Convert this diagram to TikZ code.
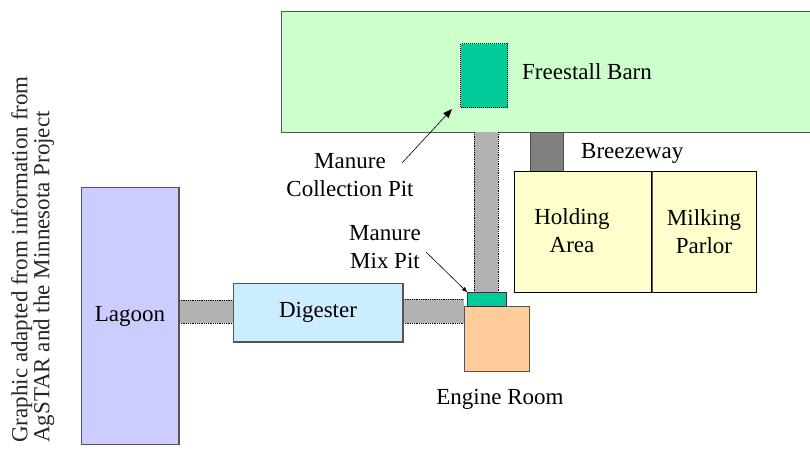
\documentclass[tikz,border=0pt]{standalone}
\usepackage{fontspec}
\setmainfont{Liberation Serif}
\usetikzlibrary{arrows.meta}
\definecolor{barn}{HTML}{CCFFCC}
\definecolor{pitg}{HTML}{00CC99}
\definecolor{pipeg}{HTML}{B2B2B2}
\definecolor{breeze}{HTML}{808080}
\definecolor{hold}{HTML}{FFFFCC}
\definecolor{eng}{HTML}{FFCC99}
\definecolor{dig}{HTML}{CCECFF}
\definecolor{lag}{HTML}{CCCCFF}
\definecolor{edge}{HTML}{555555}
\tikzset{
  box/.style={draw=edge, line width=1pt, anchor=north west, inner sep=0pt, font=\fontsize{23}{28}\selectfont, align=center},
  txt/.style={inner sep=0pt, font=\fontsize{23}{28}\selectfont, align=center},
  pipe/.style={fill=pipeg},
  pipeedge/.style={draw=black, line width=0.8pt, densely dotted},
  arr/.style={draw=black, line width=0.6pt}
}
\begin{document}
\begin{tikzpicture}[x=1pt,y=-1pt]
\useasboundingbox (0,0) rectangle (810,461);
% buildings
\node[box, fill=barn, minimum width=540, minimum height=121] (barn) at (281,11) {};
\node[box, fill=pitg, draw=black, densely dotted, minimum width=47, minimum height=64] (cpit) at (460,43) {};
\node[txt, anchor=west] (barntxt) at (522,72) {Freestall Barn};
\node[box, fill=breeze, draw=black!70, minimum width=33, minimum height=40] (breeze) at (530,132) {};
\node[txt, anchor=west] (breezetxt) at (581,153) {Breezeway};
\node[box, fill=hold, draw=black, minimum width=137, minimum height=121] (hold) at (514,171) {};
\node[txt] (holdtxt) at (572,231) {Holding\\Area};
\node[box, fill=hold, draw=black, minimum width=105, minimum height=121] (milk) at (651,171) {Milking\\Parlor};
\draw[edge, line width=1pt] (hold.north east) -- (hold.south east);
% vertical pipe
\fill[pipe] (474,132) rectangle (498,292);
\draw[pipeedge] (474,132) -- (474,299);
\draw[pipeedge] (498,132) -- (498,292);
% engine room and mix pit
\node[box, fill=eng, minimum width=65, minimum height=65] (engine) at (464,306) {};
\node[box, fill=pitg, draw=black!80, minimum width=39, minimum height=14] (mpit) at (467,292) {};
\node[txt] (enginetxt) at (500,399) {Engine Room};
% digester and lagoon
\node[box, fill=dig, minimum width=169, minimum height=58] (dig) at (233,283) {Digester};
\node[box, fill=lag, minimum width=97, minimum height=257] (lagoon) at (81,187) {Lagoon};
% horizontal pipes
\fill[pipe] (dig.east |- 0,299) rectangle (engine.west |- 0,323);
\draw[pipeedge] (dig.east |- 0,299) -- (engine.west |- 0,299);
\draw[pipeedge] (dig.east |- 0,323) -- (engine.west |- 0,323);
\fill[pipe] (lagoon.east |- 0,300) rectangle (dig.west |- 0,323);
\draw[pipeedge] (lagoon.east |- 0,300) -- (dig.west |- 0,300);
\draw[pipeedge] (lagoon.east |- 0,323) -- (dig.west |- 0,323);
\draw[edge, line width=1pt] (dig.north west) rectangle (dig.south east);
\draw[edge, line width=1pt] (lagoon.north east) -- (lagoon.south east);
% labels and arrows
\node[txt] (cplabel) at (350,175) {Manure\\Collection Pit};
\node[txt] (mplabel) at (385,247) {Manure\\Mix Pit};
\coordinate (cpstart) at (402,163);
\coordinate (mpstart) at (426,252);
\draw[arr, -{Triangle[length=9pt,width=7pt]}] (cpstart) -- ([shift={(-8,1)}]cpit.south west);
\draw[arr, -{Triangle[length=5pt,width=4pt]}] (mpstart) -- (mpit.north west);
% credit
\node[inner sep=0pt, rotate=90, anchor=north west, align=left, text=black!85, font=\fontsize{23}{22}\selectfont] (credit) at (11,443) {Graphic adapted from information from\\AgSTAR and the Minnesota Project};
\end{tikzpicture}
\end{document}
